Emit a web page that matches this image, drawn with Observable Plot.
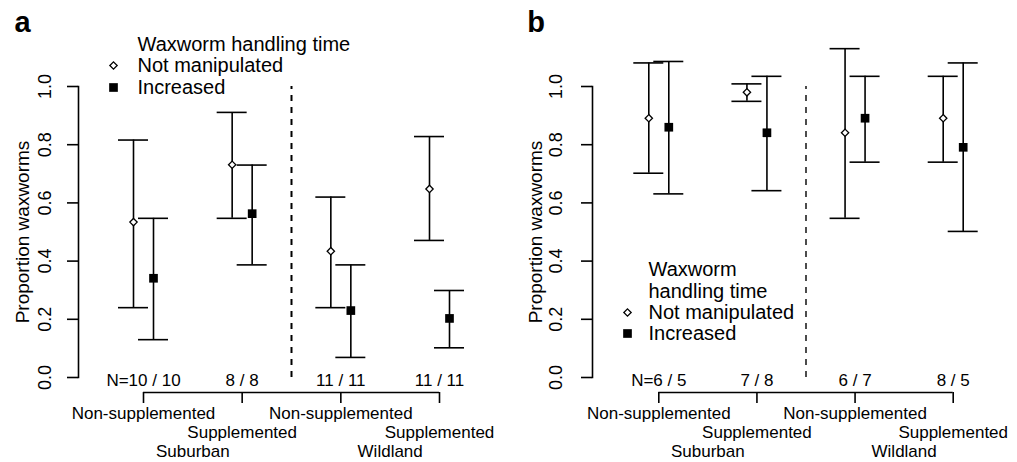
<!DOCTYPE html>
<html><head><meta charset="utf-8">
<script src="https://cdn.jsdelivr.net/npm/d3@7"></script>
<script src="https://cdn.jsdelivr.net/npm/@observablehq/plot@0.6"></script>
<style>
html,body{margin:0;padding:0;background:#fff;}
#wrap{position:relative;width:1017px;height:462px;overflow:hidden;background:#fff;}
#wrap svg{position:absolute;top:0;}
</style></head><body><div id="wrap"></div>
<script>
// ---- data ----
const groups = [1, 2, 3, 4];
const treatments = ["Non-supplemented", "Supplemented", "Non-supplemented", "Supplemented"];
const habitats = ["Suburban", "Suburban", "Wildland", "Wildland"];
const yTicks = [0, 0.2, 0.4, 0.6, 0.8, 1.0];
const legendTitleA = ["Waxworm handling time"];
const legendTitleB = ["Waxworm", "handling time"];
const seriesNames = ["Not manipulated", "Increased"];

// Panel a
const sampleA = ["N=10 / 10", "8 / 8", "11 / 11", "11 / 11"];
const aNotMean = [0.534, 0.731, 0.434, 0.648];
const aNotLow  = [0.240, 0.547, 0.240, 0.471];
const aNotHigh = [0.816, 0.911, 0.620, 0.828];
const aIncMean = [0.341, 0.563, 0.230, 0.203];
const aIncLow  = [0.130, 0.387, 0.069, 0.102];
const aIncHigh = [0.547, 0.730, 0.387, 0.299];

// Panel b
const sampleB = ["N=6 / 5", "7 / 8", "6 / 7", "8 / 5"];
const bNotMean = [0.891, 0.980, 0.841, 0.891];
const bNotLow  = [0.702, 0.949, 0.547, 0.740];
const bNotHigh = [1.081, 1.009, 1.130, 1.035];
const bIncMean = [0.860, 0.841, 0.891, 0.791];
const bIncLow  = [0.631, 0.642, 0.740, 0.502];
const bIncHigh = [1.086, 1.035, 1.035, 1.081];

const ink = "#000";
const lw = 1.6;

function panel(p) {
  const rows = groups.map((g, i) => ({
    g, treatment: treatments[i], habitat: habitats[i], n: p.samples[i],
    notMean: p.notMean[i], notLow: p.notLow[i], notHigh: p.notHigh[i],
    incMean: p.incMean[i], incLow: p.incLow[i], incHigh: p.incHigh[i]
  }));
  const habitatRows = Array.from(d3.group(rows, d => d.habitat), ([h, rs]) => ({habitat: h, g: d3.mean(rs, r => r.g)}));
  const divider = d3.mean([groups[1], groups[2]]);
  const L = p.legend;
  const mid = {textAnchor: "middle", lineAnchor: "middle", fill: ink};
  const marks = [
    Plot.frame({anchor: "left", stroke: ink, strokeWidth: lw}),
    Plot.axisY({ticks: yTicks, tickSize: 11, tickPadding: p.tickPadding, tickRotate: -90,
      tickFormat: d3.format(".1f"), label: null, strokeWidth: lw, stroke: ink, fill: ink, fontSize: 18}),
    Plot.text(["Proportion waxworms"], {frameAnchor: "left", dx: p.titleDx, rotate: -90, fontSize: 19, ...mid}),
    // grouping bracket under the plot
    Plot.ruleY([0], {x1: d3.min(groups), x2: d3.max(groups), dy: 15, stroke: ink, strokeWidth: lw}),
    Plot.axisX({ticks: groups, tickSize: 11, dy: 15, tickFormat: () => "", label: null, strokeWidth: lw, stroke: ink}),
    Plot.text(rows, {x: "g", text: "n", frameAnchor: "bottom", dy: 3, ...mid}),
    Plot.text(rows.filter(d => d.treatment === "Non-supplemented"), {x: "g", text: "treatment", frameAnchor: "bottom", dy: 36, ...mid}),
    Plot.text(rows.filter(d => d.treatment === "Supplemented"), {x: "g", text: "treatment", frameAnchor: "bottom", dy: 55, ...mid}),
    Plot.text(habitatRows, {x: "g", text: "habitat", frameAnchor: "bottom", dy: 74, ...mid}),
    // divider
    Plot.ruleX([divider], {y1: 0, y2: 1, stroke: ink, strokeWidth: p.dashWidth, strokeDasharray: "6,6"}),
    // error bars: not manipulated
    Plot.ruleX(rows, {x: "g", y1: "notLow", y2: "notHigh", dx: -10, stroke: ink, strokeWidth: lw}),
    Plot.ruleY(rows, {x1: "g", x2: "g", y: "notLow", dx: -10, insetLeft: -15, insetRight: -15, stroke: ink, strokeWidth: lw}),
    Plot.ruleY(rows, {x1: "g", x2: "g", y: "notHigh", dx: -10, insetLeft: -15, insetRight: -15, stroke: ink, strokeWidth: lw}),
    // error bars: increased
    Plot.ruleX(rows, {x: "g", y1: "incLow", y2: "incHigh", dx: 10, stroke: ink, strokeWidth: lw}),
    Plot.ruleY(rows, {x1: "g", x2: "g", y: "incLow", dx: 10, insetLeft: -15, insetRight: -15, stroke: ink, strokeWidth: lw}),
    Plot.ruleY(rows, {x1: "g", x2: "g", y: "incHigh", dx: 10, insetLeft: -15, insetRight: -15, stroke: ink, strokeWidth: lw}),
    // points
    Plot.dot(rows, {x: "g", y: "notMean", dx: -10, symbol: "diamond2", r: 3.3, fill: "white", stroke: ink, strokeWidth: 1.3}),
    Plot.dot(rows, {x: "g", y: "incMean", dx: 10, symbol: "square", r: 4.9, fill: ink})
  ];
  // legend
  const leg = {frameAnchor: "top-left", textAnchor: "start", lineAnchor: "middle", fontSize: 20, fill: ink};
  L.title.forEach((t, i) => marks.push(Plot.text([t], {...leg, dx: L.textDx, dy: L.titleDy[i]})));
  seriesNames.forEach((t, i) => marks.push(Plot.text([t], {...leg, dx: L.textDx, dy: L.itemDy[i]})));
  marks.push(Plot.dot([0], {x: null, y: null, frameAnchor: "top-left", dx: L.symDx, dy: L.itemDy[0], symbol: "diamond2", r: 3.3, fill: "white", stroke: ink, strokeWidth: 1.3}));
  marks.push(Plot.dot([0], {x: null, y: null, frameAnchor: "top-left", dx: L.symDx, dy: L.itemDy[1], symbol: "square", r: 4.9, fill: ink}));
  // panel letter
  marks.push(Plot.text([p.letter], {frameAnchor: "top-left", dx: p.letterDx, dy: -64, fontSize: 29, fontWeight: "bold", ...mid}));

  const svg = Plot.plot({
    width: p.width, height: 462,
    marginLeft: p.marginLeft, marginTop: 86, marginBottom: 85, marginRight: 20,
    x: {domain: [d3.min(groups), d3.max(groups)], range: p.xRange},
    y: {domain: [0, 1]},
    style: {fontFamily: "'Liberation Sans', Arial, sans-serif", fontSize: "17px", color: "#000", background: "#fff", overflow: "visible"},
    marks
  });
  svg.style.left = p.left + "px";
  return svg;
}

const wrap = document.getElementById("wrap");
wrap.appendChild(panel({
  letter: "a", left: 0, width: 508, marginLeft: 78, xRange: [143, 439],
  samples: sampleA, notMean: aNotMean, notLow: aNotLow, notHigh: aNotHigh,
  incMean: aIncMean, incLow: aIncLow, incHigh: aIncHigh,
  tickPadding: 17, titleDx: -56, letterDx: -56, dashWidth: 2,
  legend: {title: legendTitleA, textDx: 59, symDx: 35, titleDy: [-42], itemDy: [-21, 1]}
}));
wrap.appendChild(panel({
  letter: "b", left: 508, width: 509, marginLeft: 84, xRange: [150.3, 444.7],
  samples: sampleB, notMean: bNotMean, notLow: bNotLow, notHigh: bNotHigh,
  incMean: bIncMean, incLow: bIncLow, incHigh: bIncHigh,
  tickPadding: 20, titleDx: -56.5, letterDx: -56.5, dashWidth: 1.4,
  legend: {title: legendTitleB, textDx: 56, symDx: 35, titleDy: [183, 205], itemDy: [226, 247]}
}));
</script>
</body></html>
